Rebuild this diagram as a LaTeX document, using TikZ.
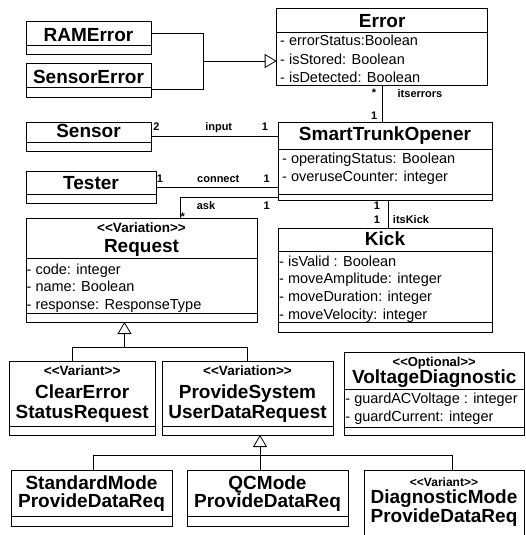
\documentclass[tikz,border=0pt]{standalone}
\usepackage{fontspec}
\setmainfont{Liberation Sans}
\usetikzlibrary{arrows.meta}

% class box: name, x1, y1, x2, y2 (y grows downward)
\newcommand\umlbox[5]{\node[cbox, anchor=north west, minimum width={(#4)-(#2)}, minimum height={(#5)-(#3)}] (#1) at (#2,#3) {};}
% horizontal compartment divider across a class box at height #2
\newcommand\umldiv[2]{\draw[div] (#1.west |- 0,#2) -- (#1.east |- 0,#2);}
% stereotype brackets, kept as plain angle brackets (no guillemet ligature)
\newcommand\stereo[1]{<\kern0pt<#1>\kern0pt>}

\begin{document}
\begin{tikzpicture}[x=1pt,y=-1pt,
  cbox/.style={draw=black, line width=1pt, inner sep=0pt, outer sep=0pt, fill=white},
  div/.style={line width=1pt},
  conn/.style={line width=0.8pt},
  gen/.style={conn, -{Triangle[open, length=12pt, width=14pt, line width=0.8pt]}},
  nm/.style={font=\fontsize{19}{19}\selectfont\bfseries, inner sep=0pt, anchor=base},
  st/.style={font=\fontsize{13.5}{13.5}\selectfont\bfseries, inner sep=0pt, anchor=base},
  attr/.style={font=\fontsize{14.5}{14.5}\selectfont, inner sep=0pt, anchor=base west},
  lb/.style={font=\fontsize{11}{11}\selectfont\bfseries, inner sep=0pt, anchor=base}]

\useasboundingbox (0,0) rectangle (525,535);

% ---- class boxes ----
\umlbox{ram}{26}{22}{151}{55} \umldiv{ram}{45.7}
\umlbox{serr}{26}{64}{151}{97} \umldiv{serr}{87}
\umlbox{err}{276.7}{8.3}{487.7}{85.7} \umldiv{err}{32.3}
\umlbox{sto}{278}{122}{492}{200} \umldiv{sto}{149} \umldiv{sto}{194}
\umlbox{sensor}{26}{122}{151}{151} \umldiv{sensor}{142}
\umlbox{tester}{26}{171}{156}{203} \umldiv{tester}{194}
\umlbox{req}{26}{218}{257}{322} \umldiv{req}{258.3} \umldiv{req}{313}
\umlbox{kick}{278}{228}{492}{332} \umldiv{kick}{251} \umldiv{kick}{322.7}
\umlbox{ce}{9.3}{361}{155}{435} \umldiv{ce}{426}
\umlbox{psu}{162}{361}{333}{435} \umldiv{psu}{426}
\umlbox{vd}{344.5}{352.5}{524}{435} \umldiv{vd}{389.5} \umldiv{vd}{427}
\umlbox{smp}{11}{470}{172}{526} \umldiv{smp}{516.7}
\umlbox{qc}{187}{470}{348}{526} \umldiv{qc}{516.7}
\umlbox{dm}{364}{470.7}{524}{541}

% ---- class texts ----
\node[nm] (ram-n) at (88.5,41.7) {RAMError};
\node[nm] (serr-n) at (88.5,83) {SensorError};

\node[nm] (err-n) at (382.2,27.3) {Error};
\node[attr] (err-a1) at (280,46) {- errorStatus:Boolean};
\node[attr] (err-a2) at (280,64) {- isStored: Boolean};
\node[attr] (err-a3) at (280,82) {- isDetected: Boolean};

\node[nm] (sto-n) at (385,140) {SmartTrunkOpener};
\node[attr] (sto-a1) at (282,163) {- operatingStatus: Boolean};
\node[attr] (sto-a2) at (282,181) {- overuseCounter: integer};

\node[nm] (sensor-n) at (88.5,137) {Sensor};
\node[nm] (tester-n) at (91,189) {Tester};

\node[st] (req-s) at (141.5,232) {\stereo{Variation}};
\node[nm] (req-n) at (141.5,252) {Request};
\node[attr] (req-a1) at (26.5,274) {- code: integer};
\node[attr] (req-a2) at (26.5,291.5) {- name: Boolean};
\node[attr] (req-a3) at (26.5,309) {- response: ResponseType};

\node[nm] (kick-n) at (385,245) {Kick};
\node[attr] (kick-a1) at (279,266) {- isValid : Boolean};
\node[attr] (kick-a2) at (279,283.8) {- moveAmplitude: integer};
\node[attr] (kick-a3) at (279,301.6) {- moveDuration: integer};
\node[attr] (kick-a4) at (279,319.4) {- moveVelocity: integer};

\node[st] (ce-s) at (82.2,375) {\stereo{Variant}};
\node[nm] (ce-n1) at (82.2,398) {ClearError};
\node[nm] (ce-n2) at (82.2,418.5) {StatusRequest};

\node[st] (psu-s) at (247.5,375) {\stereo{Variation}};
\node[nm] (psu-n1) at (247.5,398) {ProvideSystem};
\node[nm] (psu-n2) at (247.5,418.5) {UserDataRequest};

\node[st, font=\fontsize{13}{13}\selectfont\bfseries] (vd-s) at (434.2,366) {\stereo{Optional}};
\node[nm] (vd-n) at (434.2,383.5) {VoltageDiagnostic};
\node[attr] (vd-a1) at (345.2,403) {- guardACVoltage : integer};
\node[attr] (vd-a2) at (345.2,421.5) {- guardCurrent: integer};

\node[nm] (smp-n1) at (91.5,489) {StandardMode};
\node[nm] (smp-n2) at (91.5,507.5) {ProvideDataReq};

\node[nm] (qc-n1) at (267.5,489) {QCMode};
\node[nm] (qc-n2) at (267.5,507.5) {ProvideDataReq};

\node[st, font=\fontsize{12}{12}\selectfont\bfseries] (dm-s) at (444,486) {\stereo{Variant}};
\node[nm] (dm-n1) at (444,503.5) {DiagnosticMode};
\node[nm] (dm-n2) at (444,522) {ProvideDataReq};

% ---- associations ----
\draw[conn] (sensor.east) -- (sensor.east -| sto.west);
\draw[conn] (tester.east) -- (tester.east -| sto.west);
\draw[conn] (sto.west |- 0,197) -| (180,0 |- req.north);
\draw[conn] (err.south) -- (err.south |- sto.north);
\draw[conn] (388,0 |- sto.south) -- (388,0 |- kick.north);

% ---- generalizations ----
\coordinate (g0) at (203,61);
\draw[conn] (ram.east |- 0,33.5) -| (g0);
\draw[conn] (serr.east |- 0,89) -| (g0);
\draw[gen] (g0) -- (g0 -| err.west);

\coordinate (g1) at (124.5,347);
\draw[conn] (72,0 |- ce.north) |- (g1);
\draw[conn] (psu.north) |- (g1);
\draw[gen] (g1) -- (g1 |- req.south);

\coordinate (g2) at (260,455);
\draw[conn] (93,0 |- smp.north) |- (g2);
\draw[conn] (452,0 |- dm.north) |- (g2);
\draw[gen] (g2 |- qc.north) -- (g2 |- psu.south);

% ---- association labels ----
\node[lb] (l-err-m) at (374,96.6) {*};
\node[lb] (l-err) at (420,97) {itserrors};
\node[lb] (l-sto-1) at (374.3,119) {1};

\node[lb] (l-in-2) at (156.5,130) {2};
\node[lb] (l-in) at (218.7,130) {input};
\node[lb] (l-in-1) at (265,130) {1};

\node[lb] (l-con-1a) at (160,182) {1};
\node[lb] (l-con) at (218.3,182) {connect};
\node[lb] (l-con-1b) at (266.7,182) {1};

\node[lb] (l-ask) at (206,209) {ask};
\node[lb] (l-ask-1) at (266.7,209) {1};
\node[lb] (l-ask-m) at (182.7,220.3) {*};

\node[lb] (l-k1) at (377,209.3) {1};
\node[lb] (l-k2) at (377,223.3) {1};
\node[lb] (l-kick) at (411,223) {itsKick};
\end{tikzpicture}
\end{document}
